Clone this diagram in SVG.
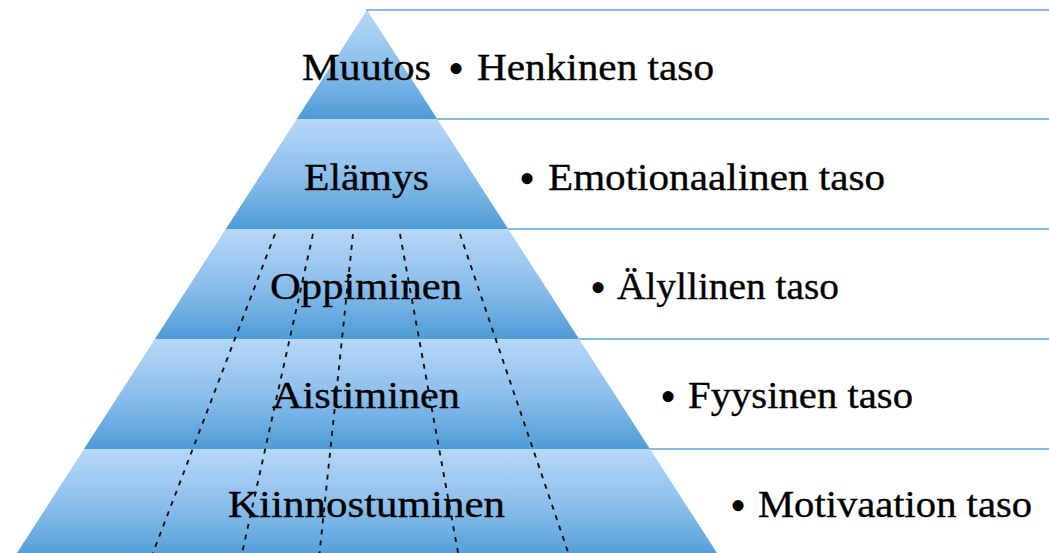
<svg xmlns="http://www.w3.org/2000/svg" width="1049" height="553" viewBox="0 0 1049 553">
  <defs>
    <linearGradient id="band" x1="0" y1="0" x2="0" y2="1">
      <stop offset="0" stop-color="#b6d7f7"/>
      <stop offset="0.5" stop-color="#8dbfec"/>
      <stop offset="1" stop-color="#4e9cd7"/>
    </linearGradient>
    <style>
      .box { fill: #ffffff; stroke: #8ab8e2; stroke-width: 2; }
      .band { fill: url(#band); }
      .lbl { font-family: "Liberation Serif", "Times New Roman", serif; font-size: 38px; fill: #000000; stroke: #000000; stroke-width: 0.35; }
      .bul { font-family: "Liberation Serif", "Times New Roman", serif; font-size: 46px; fill: #000000; text-anchor: middle; }
      .dash { stroke: #111111; stroke-width: 1.9; stroke-dasharray: 5 6; fill: none; }
    </style>
  </defs>
  <rect x="0" y="0" width="1049" height="553" fill="#ffffff"/>

  <g id="level1">
    <rect class="box" x="367" y="10" width="700" height="109"/>
    <polygon class="band" points="367,10 437.3,119 296.7,119"/>
    <text class="lbl" x="302" y="80" textLength="129" lengthAdjust="spacingAndGlyphs">Muutos</text>
    <text class="bul" x="456" y="84">•</text>
    <text class="lbl" x="477" y="80" textLength="237" lengthAdjust="spacingAndGlyphs">Henkinen taso</text>
  </g>

  <g id="level2">
    <rect class="box" x="437" y="119" width="630" height="110"/>
    <polygon class="band" points="296.7,119 437.3,119 508.2,229 225.8,229"/>
    <text class="lbl" x="304" y="190" textLength="125" lengthAdjust="spacingAndGlyphs">Elämys</text>
    <text class="bul" x="527" y="194">•</text>
    <text class="lbl" x="548" y="190" textLength="337" lengthAdjust="spacingAndGlyphs">Emotionaalinen taso</text>
  </g>

  <g id="level3">
    <rect class="box" x="508" y="229" width="560" height="110"/>
    <polygon class="band" points="225.8,229 508.2,229 579.1,339 154.9,339"/>
    <text class="lbl" x="270" y="299" textLength="192" lengthAdjust="spacingAndGlyphs">Oppiminen</text>
    <text class="bul" x="598" y="303">•</text>
    <text class="lbl" x="617" y="299" textLength="222" lengthAdjust="spacingAndGlyphs">Älyllinen taso</text>
  </g>

  <g id="level4">
    <rect class="box" x="579" y="339" width="490" height="110"/>
    <polygon class="band" points="154.9,339 579.1,339 650,449 84,449"/>
    <text class="lbl" x="272" y="408" textLength="188" lengthAdjust="spacingAndGlyphs">Aistiminen</text>
    <text class="bul" x="668" y="412">•</text>
    <text class="lbl" x="688" y="408" textLength="225" lengthAdjust="spacingAndGlyphs">Fyysinen taso</text>
  </g>

  <g id="level5">
    <rect class="box" x="650" y="449" width="420" height="115"/>
    <polygon class="band" points="84,449 650,449 720.9,559 13.1,559"/>
    <text class="lbl" x="228" y="517" textLength="277" lengthAdjust="spacingAndGlyphs">Kiinnostuminen</text>
    <text class="bul" x="738" y="521">•</text>
    <text class="lbl" x="758" y="517" textLength="274" lengthAdjust="spacingAndGlyphs">Motivaation taso</text>
  </g>

  <g id="connectors">
    <line class="dash" x1="275" y1="234" x2="151" y2="558"/>
    <line class="dash" x1="313" y1="234" x2="241" y2="558"/>
    <line class="dash" x1="353" y1="234" x2="319" y2="558"/>
    <line class="dash" x1="400" y1="234" x2="459" y2="558"/>
    <line class="dash" x1="460" y1="234" x2="570" y2="558"/>
  </g>
</svg>
